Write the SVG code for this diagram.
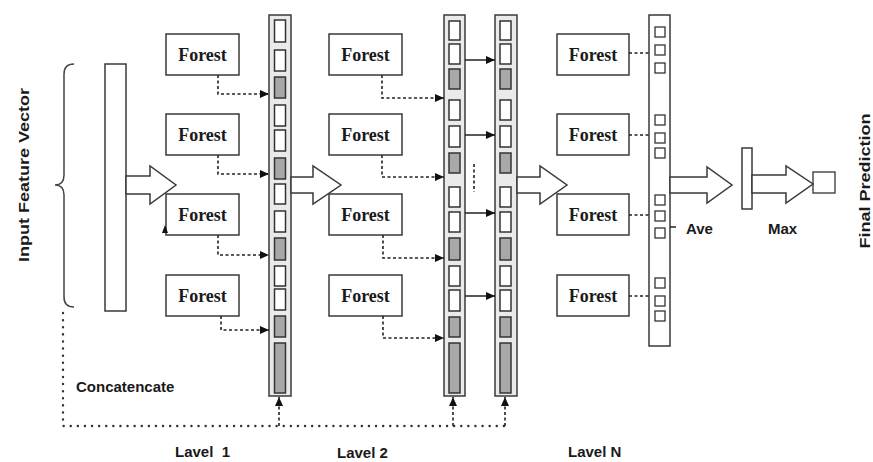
<svg xmlns="http://www.w3.org/2000/svg" width="873" height="462" viewBox="0 0 873 462">
<style>
.bg{fill:#ffffff}
.box{fill:#ffffff;stroke:#3a3a3a;stroke-width:1.5}
.ft{font-family:"Liberation Serif",serif;font-weight:bold;font-size:18px;fill:#1a1a1a;text-anchor:middle}
.lb{font-family:"Liberation Sans",Arial,sans-serif;font-weight:bold;font-size:15px;fill:#1a1a1a}
.col{fill:#eaeaea;stroke:#3a3a3a;stroke-width:1.5}
.colw{fill:#ffffff;stroke:#3a3a3a;stroke-width:1.5}
.cw{fill:#ffffff;stroke:#333333;stroke-width:1.5}
.cg{fill:#a8a8a8;stroke:#333333;stroke-width:1.5}
.sq{fill:#ffffff;stroke:#333333;stroke-width:1.3}
.big{fill:#ffffff;stroke:#3a3a3a;stroke-width:1.5;stroke-linejoin:miter}
.dash{fill:none;stroke:#222;stroke-width:1.6;stroke-dasharray:3 2.5}
.dot{fill:none;stroke:#333;stroke-width:2.4;stroke-dasharray:0.1 7;stroke-linecap:round}
.sol{fill:none;stroke:#222;stroke-width:1.5}
</style>
<defs>
<marker id="ah" markerUnits="userSpaceOnUse" markerWidth="9" markerHeight="8" refX="9" refY="4" orient="auto">
<path d="M0,0 L9,4 L0,8 z" fill="#111"/>
</marker>
</defs>
<rect class="bg" x="0" y="0" width="873" height="462"/>

<g id="input">
<path d="M74 64 Q64 64 64 74 L64 175 Q64 185 55 185 Q64 185 64 195 L64 297 Q64 307 74 307" fill="none" stroke="#444" stroke-width="1.5"/>
<rect class="colw" x="105" y="64" width="21" height="247"/>
<text class="lb" font-size="17" transform="translate(29,175) rotate(-90)" text-anchor="middle" textLength="174" lengthAdjust="spacingAndGlyphs">Input Feature Vector</text>
</g>

<g id="level1-forests">
<rect class="box" x="166" y="34" width="73" height="41"/><text class="ft" x="202.5" y="61">Forest</text>
<rect class="box" x="166" y="114" width="73" height="41"/><text class="ft" x="202.5" y="141">Forest</text>
<rect class="box" x="166" y="194" width="73" height="41"/><text class="ft" x="202.5" y="221">Forest</text>
<rect class="box" x="166" y="275" width="73" height="41"/><text class="ft" x="202.5" y="302">Forest</text>
<polygon points="162,233 165,225 168,233" fill="#111"/>
</g>

<g id="level1-vector">
<rect class="col" x="269" y="15" width="22" height="381"/>
<rect class="cw" x="274.5" y="20" width="11" height="22"/>
<rect class="cw" x="274.5" y="50" width="11" height="21"/>
<rect class="cg" x="274.5" y="77" width="11" height="21"/>
<rect class="cw" x="274.5" y="105" width="11" height="21"/>
<rect class="cw" x="274.5" y="130" width="11" height="21"/>
<rect class="cg" x="274.5" y="158" width="11" height="21"/>
<rect class="cw" x="274.5" y="184" width="11" height="20"/>
<rect class="cw" x="274.5" y="211" width="11" height="21"/>
<rect class="cg" x="274.5" y="238" width="11" height="22"/>
<rect class="cw" x="274.5" y="266" width="11" height="20"/>
<rect class="cw" x="274.5" y="289" width="11" height="21"/>
<rect class="cg" x="274.5" y="316" width="11" height="21"/>
<rect class="cg" x="274.5" y="343" width="11" height="50"/>
</g>

<g id="level2-forests">
<rect class="box" x="329" y="34" width="73" height="41"/><text class="ft" x="365.5" y="61">Forest</text>
<rect class="box" x="329" y="114" width="73" height="41"/><text class="ft" x="365.5" y="141">Forest</text>
<rect class="box" x="329" y="194" width="73" height="41"/><text class="ft" x="365.5" y="221">Forest</text>
<rect class="box" x="329" y="275" width="73" height="41"/><text class="ft" x="365.5" y="302">Forest</text>
</g>

<g id="level2-vector-a">
<rect class="col" x="444" y="15" width="21" height="381"/>
<rect class="cw" x="449" y="21" width="11" height="19"/>
<rect class="cw" x="449" y="44" width="11" height="20"/>
<rect class="cg" x="449" y="69" width="11" height="20"/>
<rect class="cw" x="449" y="100" width="11" height="20"/>
<rect class="cw" x="449" y="126" width="11" height="21"/>
<rect class="cg" x="449" y="153" width="11" height="20"/>
<rect class="cw" x="449" y="187" width="11" height="20"/>
<rect class="cw" x="449" y="212" width="11" height="20"/>
<rect class="cg" x="449" y="238" width="11" height="22"/>
<rect class="cw" x="449" y="266" width="11" height="20"/>
<rect class="cw" x="449" y="290" width="11" height="21"/>
<rect class="cg" x="449" y="317" width="11" height="20"/>
<rect class="cg" x="449" y="343" width="11" height="50"/>
</g>

<g id="level2-vector-b">
<rect class="col" x="495" y="15" width="22" height="381"/>
<rect class="cw" x="500" y="21" width="11" height="19"/>
<rect class="cw" x="500" y="44" width="11" height="20"/>
<rect class="cg" x="500" y="69" width="11" height="20"/>
<rect class="cw" x="500" y="100" width="11" height="20"/>
<rect class="cw" x="500" y="126" width="11" height="21"/>
<rect class="cg" x="500" y="153" width="11" height="20"/>
<rect class="cw" x="500" y="187" width="11" height="20"/>
<rect class="cw" x="500" y="212" width="11" height="20"/>
<rect class="cg" x="500" y="238" width="11" height="22"/>
<rect class="cw" x="500" y="266" width="11" height="20"/>
<rect class="cw" x="500" y="290" width="11" height="21"/>
<rect class="cg" x="500" y="317" width="11" height="20"/>
<rect class="cg" x="500" y="343" width="11" height="50"/>
</g>

<g id="levelN-forests">
<rect class="box" x="557" y="34" width="72" height="41"/><text class="ft" x="593" y="61">Forest</text>
<rect class="box" x="557" y="114" width="72" height="41"/><text class="ft" x="593" y="141">Forest</text>
<rect class="box" x="557" y="194" width="72" height="41"/><text class="ft" x="593" y="221">Forest</text>
<rect class="box" x="557" y="275" width="72" height="41"/><text class="ft" x="593" y="302">Forest</text>
</g>

<g id="levelN-vector">
<rect class="colw" x="649" y="15" width="21" height="331"/>
<rect class="sq" x="655" y="27" width="10" height="10"/>
<rect class="sq" x="655" y="45" width="10" height="10"/>
<rect class="sq" x="655" y="63" width="10" height="10"/>
<rect class="sq" x="655" y="115" width="10" height="10"/>
<rect class="sq" x="655" y="133" width="10" height="10"/>
<rect class="sq" x="655" y="148" width="10" height="10"/>
<rect class="sq" x="655" y="195" width="10" height="10"/>
<rect class="sq" x="655" y="211" width="10" height="10"/>
<rect class="sq" x="655" y="228" width="10" height="10"/>
<rect class="sq" x="655" y="278" width="10" height="10"/>
<rect class="sq" x="655" y="296" width="10" height="10"/>
<rect class="sq" x="655" y="311" width="10" height="10"/>
</g>

<g id="average">
<rect class="colw" x="742" y="148" width="10" height="61"/>
<text class="lb" font-size="16" x="686" y="234">Ave</text>
</g>

<g id="final">
<rect class="sq" x="813" y="172" width="22" height="21" stroke-width="1.5"/>
<text class="lb" x="768" y="234">Max</text>
<text class="lb" font-size="17" transform="translate(870,181) rotate(-90)" text-anchor="middle" textLength="135" lengthAdjust="spacingAndGlyphs">Final Prediction</text>
</g>

<g id="labels">
<text class="lb" x="76" y="392">Concatencate</text>
<text class="lb" x="175" y="457" xml:space="preserve">Lavel  1</text>
<text class="lb" x="337" y="458">Lavel 2</text>
<text class="lb" x="568" y="457">Lavel N</text>
</g>

<g id="connectors">
<polygon class="big" points="126,176 150,176 150,166 176,185 150,204 150,194 126,194"/>
<polygon class="big" points="291,177 313,177 313,166 341,185 313,204 313,193 291,193"/>
<polygon class="big" points="517,177 540,177 540,166 567,185 540,204 540,193 517,193"/>
<polygon class="big" points="670,177 707,177 707,167 732,185 707,203 707,193 670,193"/>
<polygon class="big" points="752,175 786,175 786,166 813,184 786,203 786,193 752,193"/>

<path class="dash" d="M218 75 V94 H269" marker-end="url(#ah)"/>
<path class="dash" d="M218 155 V174 H269" marker-end="url(#ah)"/>
<path class="dash" d="M218 235 V255 H269" marker-end="url(#ah)"/>
<path class="dash" d="M221 316 V330 H269" marker-end="url(#ah)"/>

<path class="dash" d="M382 75 V98 H444" marker-end="url(#ah)"/>
<path class="dash" d="M382 155 V177 H444" marker-end="url(#ah)"/>
<path class="dash" d="M383 235 V258 H444" marker-end="url(#ah)"/>
<path class="dash" d="M383 316 V338 H444" marker-end="url(#ah)"/>

<path class="sol" d="M465 60 H495" marker-end="url(#ah)"/>
<path class="sol" d="M465 135 H495" marker-end="url(#ah)"/>
<path class="sol" d="M465 213 H495" marker-end="url(#ah)"/>
<path class="sol" d="M465 296 H495" marker-end="url(#ah)"/>
<path class="dash" d="M474 164 V192" stroke-dasharray="2 2.5"/>

<path class="dash" d="M629 53 H649" stroke-dasharray="2.5 2.5"/>
<path class="dash" d="M629 135 H649" stroke-dasharray="2.5 2.5"/>
<path class="dash" d="M629 215 H649" stroke-dasharray="2.5 2.5"/>
<path class="dash" d="M629 296 H649" stroke-dasharray="2.5 2.5"/>
<path class="sol" d="M670 227 H676"/>

<path class="dot" d="M63 313 V426 H505"/>
<path class="dash" d="M279 426 V397" stroke-dasharray="2.5 2.5" marker-end="url(#ah)"/>
<path class="dash" d="M453 426 V397" stroke-dasharray="2.5 2.5" marker-end="url(#ah)"/>
<path class="dash" d="M505 426 V397" stroke-dasharray="2.5 2.5" marker-end="url(#ah)"/>
</g>
</svg>
